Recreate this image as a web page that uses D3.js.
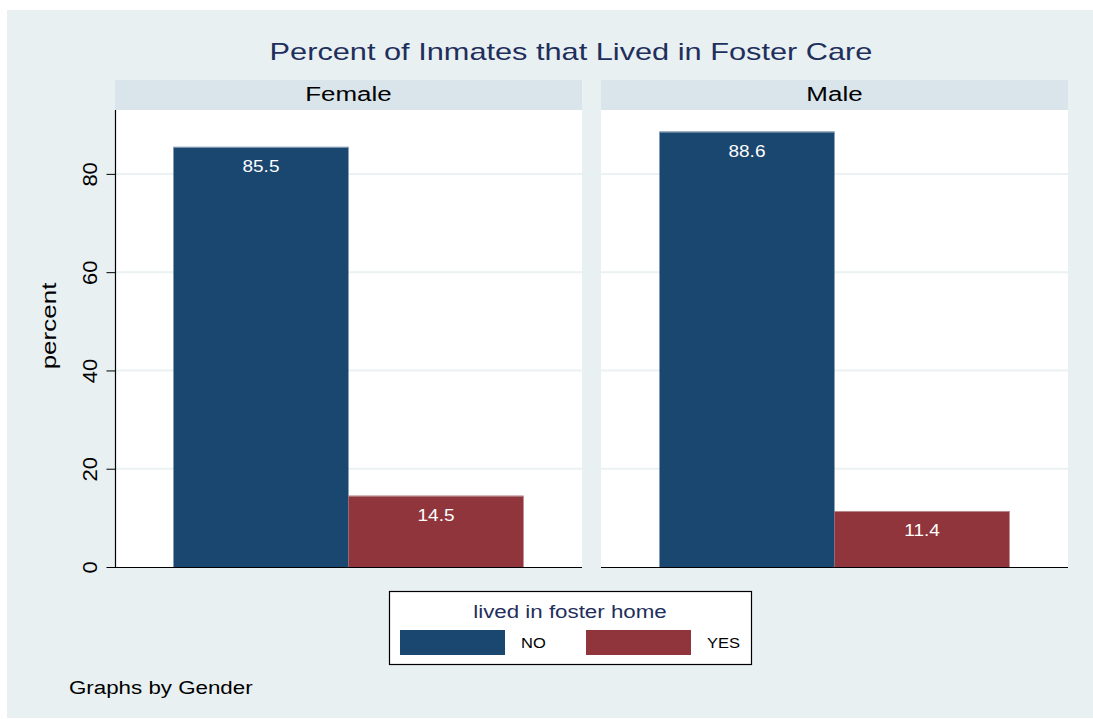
<!DOCTYPE html>
<html><head><meta charset="utf-8">
<script src="https://cdn.jsdelivr.net/npm/d3@7"></script>
<style>body{margin:0;background:#fff}svg{display:block}text{font-family:"Liberation Sans",Arial,sans-serif}</style>
</head><body><svg id="c" width="1093" height="719"></svg>
<script>
const panels = ["Female", "Male"];
const categories = ["NO", "YES"];
const femaleValues = [85.5, 14.5];
const maleValues = [88.6, 11.4];
const yTicks = [0, 20, 40, 60, 80];
const chartTitle = "Percent of Inmates that Lived in Foster Care";
const legendTitle = "lived in foster home";
const note = "Graphs by Gender";
const yLabel = "percent";
const colors = ["#1a476f", "#90353b"];
const values = {Female: femaleValues, Male: maleValues};

// widen glyphs horizontally to match the reference's wide rendering
const STRETCH = 1.27;
function widen(sel, factor) {
  sel.each(function() {
    const w = this.getComputedTextLength();
    d3.select(this).attr("textLength", w * (factor || STRETCH)).attr("lengthAdjust", "spacingAndGlyphs");
  });
}

const svg = d3.select("#c");
svg.append("rect").attr("x",7).attr("y",10).attr("width",1086).attr("height",708).attr("fill","#e8f0f2");

svg.append("text").attr("x",571).attr("y",60).attr("text-anchor","middle")
  .attr("font-size",24).attr("fill","#1f2f5c").text(chartTitle).call(widen, 1.28);

const plotTop = 110, plotBottom = 567;
const y = d3.scaleLinear().domain([0, 93]).range([plotBottom, plotTop]);
const px = d3.scaleOrdinal().domain(panels).range([115, 601]);
const pw = 467;

panels.forEach((p, i) => {
  const x0 = px(p);
  const g = svg.append("g");
  g.append("rect").attr("x",x0).attr("y",80).attr("width",pw).attr("height",30).attr("fill","#d9e5eb");
  g.append("text").attr("x",x0+pw/2).attr("y",101).attr("text-anchor","middle").attr("font-size",19.5).attr("fill","#000").text(p).call(widen, 1.33);
  g.append("rect").attr("x",x0).attr("y",plotTop).attr("width",pw).attr("height",plotBottom-plotTop).attr("fill","#fff");
  g.selectAll("line.grid").data(yTicks.filter(t=>t>0)).join("line")
    .attr("x1",x0).attr("x2",x0+pw).attr("y1",d=>y(d)).attr("y2",d=>y(d))
    .attr("stroke","#eaf2f3").attr("stroke-width",2);
  const xb = d3.scaleBand().domain(categories).range([x0, x0+pw]).paddingOuter(0.334).paddingInner(0);
  const vals = values[p];
  g.selectAll("rect.bar").data(categories).join("rect")
    .attr("x",d=>xb(d)).attr("width",xb.bandwidth())
    .attr("y",(d,j)=>y(vals[j])).attr("height",(d,j)=>plotBottom-y(vals[j]))
    .attr("fill",(d,j)=>colors[j]);
  g.selectAll("line.top").data(categories).join("line")
    .attr("x1",d=>xb(d)).attr("x2",d=>xb(d)+xb.bandwidth())
    .attr("y1",(d,j)=>y(vals[j])+0.5).attr("y2",(d,j)=>y(vals[j])+0.5)
    .attr("stroke",(d,j)=>j===0?"#8fa3b8":"#b58a8d").attr("stroke-width",1);
  g.selectAll("text.lab").data(categories).join("text")
    .attr("x",d=>xb(d)+xb.bandwidth()/2).attr("y",(d,j)=>y(vals[j])+25)
    .attr("text-anchor","middle").attr("font-size",16.5).attr("fill","#fff")
    .text((d,j)=>vals[j].toFixed(1)).call(widen, 1.15);
  g.append("line").attr("x1",x0).attr("x2",x0+pw).attr("y1",plotBottom+0.5).attr("y2",plotBottom+0.5).attr("stroke","#000").attr("stroke-width",1.2);
});

const ax = svg.append("g").attr("transform","translate(115.5,0)")
  .call(d3.axisLeft(y).tickValues(yTicks).tickSize(9).tickFormat(d3.format("d")));
ax.select(".domain").attr("d",`M0,${plotTop}V${plotBottom}`).attr("stroke","#000").attr("stroke-width",1.2);
ax.selectAll(".tick line").attr("stroke","#000");
ax.selectAll(".tick text").attr("font-size",20).attr("fill","#000").attr("font-family","Liberation Sans, Arial, sans-serif")
  .attr("transform","translate(-19,0) rotate(-90)").attr("dy",null).attr("x",0).attr("y",0).attr("text-anchor","middle")
  .call(widen, 1.1);

svg.append("text").attr("transform","translate(56,326) rotate(-90)").attr("text-anchor","middle")
  .attr("font-size",20).attr("fill","#000").text(yLabel).call(widen, 1.3);

// legend
const lg = svg.append("g");
lg.append("rect").attr("x",389.5).attr("y",591.5).attr("width",362).attr("height",73).attr("fill","#fff").attr("stroke","#000").attr("stroke-width",1.2);
lg.append("text").attr("x",570).attr("y",618).attr("text-anchor","middle").attr("font-size",18).attr("fill","#1f2f5c").text(legendTitle).call(widen, 1.24);
const lx = d3.scaleOrdinal().domain(categories).range([400, 586]);
lg.selectAll("rect.sw").data(categories).join("rect")
  .attr("x",d=>lx(d)).attr("y",630).attr("width",105).attr("height",25).attr("fill",(d,i)=>colors[i]);
lg.selectAll("text.lt").data(categories).join("text")
  .attr("x",d=>lx(d)+121).attr("y",648).attr("font-size",15).attr("fill","#000").text(d=>d).call(widen, 1.1);

svg.append("text").attr("x",69).attr("y",694).attr("font-size",18).attr("fill","#000").text(note).call(widen, 1.24);
</script></body></html>
